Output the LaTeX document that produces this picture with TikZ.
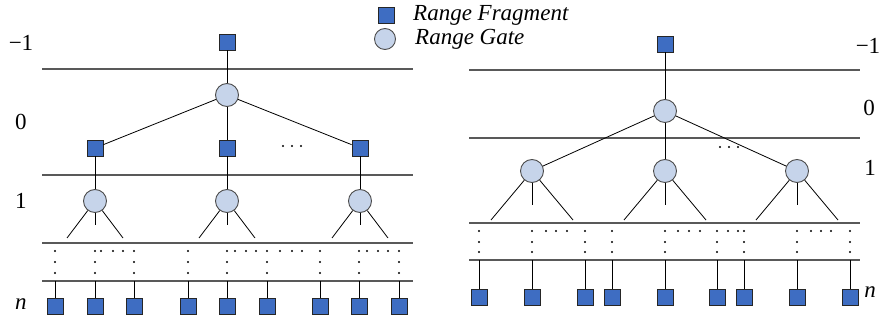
\documentclass[tikz,border=0pt]{standalone}
\usepackage{fontspec}
\setmainfont{Liberation Serif}
\definecolor{fragblue}{HTML}{3E6DC2}
\definecolor{gatefill}{HTML}{C6D4EA}
\begin{document}
\begin{tikzpicture}[x=1pt,y=-1pt,
  frag/.style={rectangle,fill=fragblue,draw=black!85,line width=0.9pt,minimum size=16pt,inner sep=0pt},
  gate/.style={circle,fill=gatefill,draw=black!70,line width=0.9pt,minimum size=23pt,inner sep=0pt},
  lvl/.style={draw=black!65,line width=1.1pt},
  edge/.style={draw=black,line width=0.8pt},
  lab/.style={font=\fontsize{23}{26}\selectfont,inner sep=0pt},
  leg/.style={font=\fontsize{23}{26}\selectfont\itshape,inner sep=0pt,anchor=west},
  dotc/.style={fill=black}]
\useasboundingbox (0,0) rectangle (886,323);

% legend
\node[frag] (legf) at (386,15) {};
\node[gate,minimum size=21pt] (legg) at (385,39) {};
\node[leg] (legft) at (413,15) {Range Fragment};
\node[leg] (leggt) at (415,39) {Range Gate};

% ---------------- left tree ----------------
\node[lab] (la1) at (21,43) {−1};
\node[lab] (la0) at (21,122) {0};
\node[lab] (la2) at (21,201) {1};
\node[lab] (lan) at (21,304) {\itshape n};

\coordinate (lA1) at (42,69);  \coordinate (lB1) at (413,69);
\coordinate (lA2) at (42,175); \coordinate (lB2) at (413,175);
\coordinate (lA3) at (42,243); \coordinate (lB3) at (413,243);
\coordinate (lA4) at (42,281); \coordinate (lB4) at (413,281);
\draw[lvl] (lA1) -- (lB1);
\draw[lvl] (lA2) -- (lB2);
\draw[lvl] (lA3) -- (lB3);
\draw[lvl] (lA4) -- (lB4);

\node[frag] (lT) at (227,42) {};
\node[gate] (lR) at (227,95) {};
\node[frag] (lS1) at (95,148) {};
\node[frag] (lS2) at (227,148) {};
\node[frag] (lS3) at (360,148) {};
\node[gate] (lG1) at (95,201) {};
\node[gate] (lG2) at (227,201) {};
\node[gate] (lG3) at (360,201) {};
\draw[edge] (lT) -- (lR);
\draw[edge] (lR) -- (lS1);
\draw[edge] (lR) -- (lS2);
\draw[edge] (lR) -- (lS3);
\draw[edge] (lS1) -- (lG1);
\draw[edge] (lS2) -- (lG2);
\draw[edge] (lS3) -- (lG3);
\foreach \d in {283,292,301} \fill[dotc] (\d,146) circle (1.2pt);

\foreach \c/\g in {95/lG1,227/lG2,360/lG3}{
  \coordinate (bl\g) at (\c-28,238);
  \coordinate (bm\g) at (\c,225);
  \coordinate (br\g) at (\c+28,238);
  \draw[edge] (\g) -- (bl\g);
  \draw[edge] (\g) -- (bm\g);
  \draw[edge] (\g) -- (br\g);
}

\foreach \x [count=\i] in {55,95,134,188,227,267,320,359,399}{
  \foreach \yy in {251,262,273} \fill[dotc] (\x,\yy) circle (1.2pt);
  \node[frag] (lN\i) at (\x,306) {};
  \coordinate (lC\i) at (\x,281);
  \draw[edge] (lC\i) -- (lN\i);
}
\foreach \x in {101,113,123,235,246,256,280,292,302,367,378,388}
  \fill[dotc] (\x,251) circle (1.2pt);

% ---------------- right tree ----------------
\node[lab] (ra1) at (868,46) {−1};
\node[lab] (ra0) at (869,108) {0};
\node[lab] (ra2) at (870,168) {1};
\node[lab] (ran) at (870,292) {\itshape n};

\coordinate (rA1) at (469,70);  \coordinate (rB1) at (860,70);
\coordinate (rA2) at (469,138); \coordinate (rB2) at (860,138);
\coordinate (rA3) at (469,223); \coordinate (rB3) at (860,223);
\coordinate (rA4) at (469,260); \coordinate (rB4) at (860,260);
\draw[lvl] (rA1) -- (rB1);
\draw[lvl] (rA2) -- (rB2);
\draw[lvl] (rA3) -- (rB3);
\draw[lvl] (rA4) -- (rB4);

\node[frag] (rT) at (665,44) {};
\node[gate] (rR) at (665,111) {};
\node[gate] (rG1) at (532,171) {};
\node[gate] (rG2) at (665,171) {};
\node[gate] (rG3) at (797,171) {};
\draw[edge] (rT) -- (rR);
\draw[edge] (rR) -- (rG1);
\draw[edge] (rR) -- (rG2);
\draw[edge] (rR) -- (rG3);
\foreach \d in {720,729,738} \fill[dotc] (\d,147) circle (1.2pt);

\foreach \c/\g in {532/rG1,665/rG2,797/rG3}{
  \coordinate (bl\g) at (\c-41,220);
  \coordinate (bm\g) at (\c,205);
  \coordinate (br\g) at (\c+41,220);
  \draw[edge] (\g) -- (bl\g);
  \draw[edge] (\g) -- (bm\g);
  \draw[edge] (\g) -- (br\g);
}

\foreach \x [count=\i] in {479,532,585,612,665,717,744,797,850}{
  \foreach \yy in {231,242,252} \fill[dotc] (\x,\yy) circle (1.2pt);
  \node[frag] (rN\i) at (\x,297) {};
  \coordinate (rC\i) at (\x,260);
  \draw[edge] (rC\i) -- (rN\i);
}
\foreach \x in {546,556,567,678,689,700,728,738,811,821,831}
  \fill[dotc] (\x,231) circle (1.2pt);
\end{tikzpicture}
\end{document}
